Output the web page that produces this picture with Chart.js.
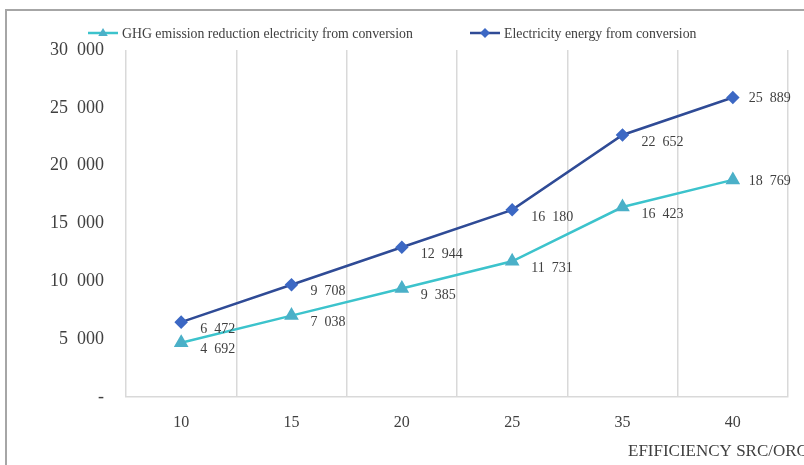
<!DOCTYPE html>
<html>
<head>
<meta charset="utf-8">
<script src="https://cdn.jsdelivr.net/npm/chart.js@4/dist/chart.umd.min.js"></script>
<style>
  html, body { margin: 0; padding: 0; background: #fff; overflow: hidden; width: 804px; height: 465px; }
  #frame {
    position: absolute; left: 5px; top: 9px;
    width: 830px; height: 470px;
    border-left: 2px solid #a6a6a6; border-top: 2px solid #a6a6a6;
  }
  canvas { display: block; }
</style>
</head>
<body>
<div id="frame"><canvas id="chart" width="830" height="454"></canvas></div>
<script>
const categories = ['10', '15', '20', '25', '35', '40'];
const ghgReduction = [4692, 7038, 9385, 11731, 16423, 18769];
const electricityEnergy = [6472, 9708, 12944, 16180, 22652, 25889];
const seriesNames = ['GHG emission reduction electricity from conversion', 'Electricity energy from conversion'];
const yTicks = [0, 5000, 10000, 15000, 20000, 25000, 30000];
const xAxisTitle = 'EFIFICIENCY SRC/ORC';

const FONT = '"Liberation Serif", "Times New Roman", serif';

// Excel-ish number format: "25  889", zero shown as "-"
function fmt(n) {
  if (n === 0) return '-';
  return String(n).replace(/\B(?=(\d{3})+(?!\d))/g, '  ');
}

function drawMarker(ctx, style, x, y, r, color) {
  ctx.save();
  ctx.fillStyle = color;
  ctx.beginPath();
  if (style === 'triangle') {
    ctx.moveTo(x, y - r);
    ctx.lineTo(x + r * 0.95, y + r * 0.6);
    ctx.lineTo(x - r * 0.95, y + r * 0.6);
  } else {
    ctx.moveTo(x, y - r);
    ctx.lineTo(x + r, y);
    ctx.lineTo(x, y + r);
    ctx.lineTo(x - r, y);
  }
  ctx.closePath();
  ctx.fill();
  ctx.restore();
}

// legend drawn Excel style: short line with the marker in the middle
const legendPlugin = {
  id: 'excelLegend',
  afterDraw(chart) {
    const ctx = chart.ctx;
    const spots = [81, 463];
    chart.data.datasets.forEach((ds, i) => {
      const x = spots[i], y = 22;
      ctx.save();
      ctx.strokeStyle = ds.borderColor;
      ctx.lineWidth = 2.5;
      ctx.beginPath();
      ctx.moveTo(x, y);
      ctx.lineTo(x + 30, y);
      ctx.stroke();
      drawMarker(ctx, ds.pointStyle, x + 15, y, 5, ds.pointBackgroundColor);
      ctx.fillStyle = '#404040';
      ctx.font = '13.8px ' + FONT;
      ctx.textBaseline = 'middle';
      ctx.fillText(ds.label, x + 34, y + 1);
      ctx.restore();
    });
  }
};

const valueLabels = {
  id: 'valueLabels',
  afterDatasetsDraw(chart) {
    const ctx = chart.ctx;
    ctx.save();
    ctx.font = '14px ' + FONT;
    ctx.fillStyle = '#404040';
    ctx.textAlign = 'left';
    ctx.textBaseline = 'middle';
    chart.data.datasets.forEach((ds, i) => {
      const meta = chart.getDatasetMeta(i);
      meta.data.forEach((pt, j) => {
        const last = j === meta.data.length - 1;
        ctx.fillText(fmt(ds.data[j]), pt.x + (last ? 16 : 19), pt.y + (last ? 1 : 7));
      });
    });
    ctx.restore();
  }
};

const axisTitle = {
  id: 'axisTitle',
  afterDraw(chart) {
    const ctx = chart.ctx;
    ctx.save();
    ctx.font = '17px ' + FONT;
    ctx.fillStyle = '#404040';
    ctx.textBaseline = 'middle';
    ctx.fillText(xAxisTitle, 621, 441);
    ctx.restore();
  }
};

new Chart(document.getElementById('chart'), {
  type: 'line',
  data: {
    labels: categories,
    datasets: [{
      label: seriesNames[0],
      data: ghgReduction,
      borderColor: '#3cc3cc',
      pointBackgroundColor: '#4bb0c8',
      pointBorderColor: '#4bb0c8',
      pointStyle: 'triangle',
      pointRadius: 6,
      borderWidth: 2.5,
      tension: 0
    }, {
      label: seriesNames[1],
      data: electricityEnergy,
      borderColor: '#2f4b96',
      pointBackgroundColor: '#3c68c4',
      pointBorderColor: '#3c68c4',
      pointStyle: 'rectRot',
      pointRadius: 5,
      borderWidth: 2.5,
      tension: 0
    }]
  },
  options: {
    responsive: false,
    animation: false,
    layout: { padding: { top: 39, right: 49, left: 0, bottom: 0 } },
    scales: {
      x: {
        offset: true,
        grid: { display: true, offset: true, color: '#d9d9d9', lineWidth: 1.5, drawTicks: false },
        border: { display: true, color: '#d9d9d9', width: 1.5 },
        ticks: { color: '#404040', font: { family: FONT, size: 16 }, padding: 16 },
        afterFit: s => { s.height = 68; }
      },
      y: {
        min: 0,
        max: 30000,
        afterBuildTicks: s => { s.ticks = yTicks.map(v => ({ value: v })); },
        grid: { display: false, drawTicks: false },
        border: { display: false },
        ticks: {
          color: '#404040',
          font: { family: FONT, size: 18 },
          padding: 22,
          callback: v => fmt(v)
        },
        afterFit: s => { s.width = 119; }
      }
    },
    plugins: {
      legend: { display: false },
      tooltip: { enabled: false }
    }
  },
  plugins: [legendPlugin, valueLabels, axisTitle]
});
</script>
</body>
</html>
